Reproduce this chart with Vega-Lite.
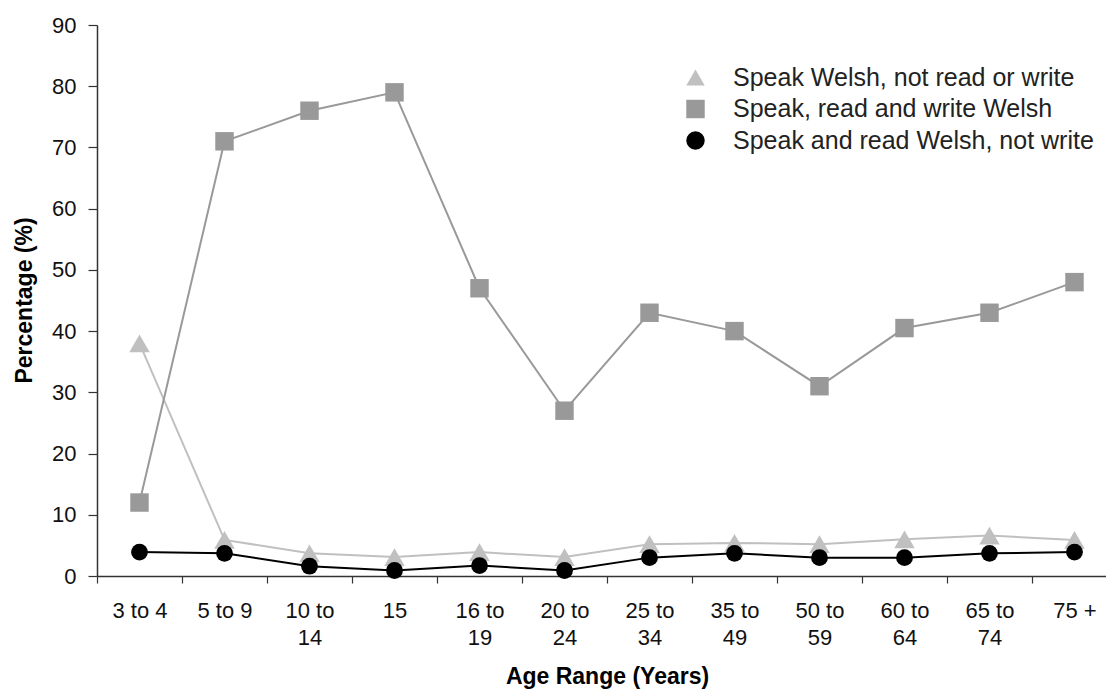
{
  "$schema": "https://vega.github.io/schema/vega-lite/v6.json",
  "autosize": {"type": "none"},
  "padding": {"left": 97, "top": 25, "right": 0, "bottom": 115},
  "width": 1020,
  "height": 551,
  "background": "white",
  "config": {
    "font": "Liberation Sans",
    "view": {"stroke": null},
    "axis": {"grid": false, "domainColor": "#333333", "tickColor": "#333333", "labelColor": "#111111", "titleColor": "#000000", "labelFont": "Liberation Sans", "titleFont": "Liberation Sans"},
    "legend": {"orient": "none", "legendX": 586, "legendY": 40, "padding": 0, "labelFontSize": 25, "labelColor": "#222222", "labelFont": "Liberation Sans", "labelLimit": 0, "symbolSize": 340, "rowPadding": 5.5, "labelOffset": 25, "symbolOpacity": 1, "symbolStrokeWidth": 0}
  },
  "data": {
    "values": [
      {"age": "3 to 4", "series": "Speak Welsh, not read or write", "pct": 38},
      {"age": "5 to 9", "series": "Speak Welsh, not read or write", "pct": 5.9},
      {"age": "10 to 14", "series": "Speak Welsh, not read or write", "pct": 3.7},
      {"age": "15", "series": "Speak Welsh, not read or write", "pct": 3.1},
      {"age": "16 to 19", "series": "Speak Welsh, not read or write", "pct": 3.9},
      {"age": "20 to 24", "series": "Speak Welsh, not read or write", "pct": 3.1},
      {"age": "25 to 34", "series": "Speak Welsh, not read or write", "pct": 5.2},
      {"age": "35 to 49", "series": "Speak Welsh, not read or write", "pct": 5.4},
      {"age": "50 to 59", "series": "Speak Welsh, not read or write", "pct": 5.2},
      {"age": "60 to 64", "series": "Speak Welsh, not read or write", "pct": 6.0},
      {"age": "65 to 74", "series": "Speak Welsh, not read or write", "pct": 6.6},
      {"age": "75 +", "series": "Speak Welsh, not read or write", "pct": 5.9},
      {"age": "3 to 4", "series": "Speak, read and write Welsh", "pct": 12},
      {"age": "5 to 9", "series": "Speak, read and write Welsh", "pct": 71},
      {"age": "10 to 14", "series": "Speak, read and write Welsh", "pct": 76},
      {"age": "15", "series": "Speak, read and write Welsh", "pct": 79},
      {"age": "16 to 19", "series": "Speak, read and write Welsh", "pct": 47},
      {"age": "20 to 24", "series": "Speak, read and write Welsh", "pct": 27},
      {"age": "25 to 34", "series": "Speak, read and write Welsh", "pct": 43},
      {"age": "35 to 49", "series": "Speak, read and write Welsh", "pct": 40},
      {"age": "50 to 59", "series": "Speak, read and write Welsh", "pct": 31},
      {"age": "60 to 64", "series": "Speak, read and write Welsh", "pct": 40.5},
      {"age": "65 to 74", "series": "Speak, read and write Welsh", "pct": 43},
      {"age": "75 +", "series": "Speak, read and write Welsh", "pct": 48},
      {"age": "3 to 4", "series": "Speak and read Welsh, not write", "pct": 3.9},
      {"age": "5 to 9", "series": "Speak and read Welsh, not write", "pct": 3.7},
      {"age": "10 to 14", "series": "Speak and read Welsh, not write", "pct": 1.6},
      {"age": "15", "series": "Speak and read Welsh, not write", "pct": 0.9},
      {"age": "16 to 19", "series": "Speak and read Welsh, not write", "pct": 1.7},
      {"age": "20 to 24", "series": "Speak and read Welsh, not write", "pct": 0.9},
      {"age": "25 to 34", "series": "Speak and read Welsh, not write", "pct": 3.0},
      {"age": "35 to 49", "series": "Speak and read Welsh, not write", "pct": 3.7},
      {"age": "50 to 59", "series": "Speak and read Welsh, not write", "pct": 3.0},
      {"age": "60 to 64", "series": "Speak and read Welsh, not write", "pct": 3.0},
      {"age": "65 to 74", "series": "Speak and read Welsh, not write", "pct": 3.7},
      {"age": "75 +", "series": "Speak and read Welsh, not write", "pct": 3.9}
    ]
  },
  "encoding": {
    "x": {
      "field": "age", "type": "ordinal", "sort": null,
      "scale": {"type": "band", "paddingInner": 0, "paddingOuter": 0},
      "axis": {
        "title": "Age Range (Years)", "titleFontSize": 23, "titleFontWeight": "bold",
        "titleY": 107, "titleBaseline": "alphabetic",
        "labelAngle": 0, "labelFontSize": 22, "labelPadding": 17, "labelLineHeight": 27.5, "labelBaseline": "top",
        "tickSize": 7, "domainWidth": 1.5, "tickWidth": 1.2, "tickBand": "extent",
        "labelExpr": "length(datum.label) > 6 ? [slice(datum.label, 0, indexof(datum.label, ' to ') + 3), slice(datum.label, indexof(datum.label, ' to ') + 4)] : datum.label"
      }
    },
    "y": {
      "field": "pct", "type": "quantitative",
      "scale": {"domain": [0, 90], "nice": false},
      "axis": {
        "title": "Percentage (%)", "titleFontSize": 23, "titleFontWeight": "bold",
        "titleX": -73, "titleY": 275, "titleAngle": -90, "titleBaseline": "middle", "titleAlign": "center",
        "values": [0, 10, 20, 30, 40, 50, 60, 70, 80, 90],
        "labelFontSize": 22, "labelPadding": 12, "tickSize": 9, "domainWidth": 1.5, "tickWidth": 1.2
      }
    }
  },
  "layer": [
    {
      "transform": [{"filter": "datum.series === 'Speak Welsh, not read or write'"}],
      "mark": {"type": "line", "strokeWidth": 2, "color": "#c0c0c0"},
      "encoding": {}
    },
    {
      "transform": [{"filter": "datum.series === 'Speak, read and write Welsh'"}],
      "mark": {"type": "line", "strokeWidth": 2, "color": "#999999"},
      "encoding": {}
    },
    {
      "transform": [{"filter": "datum.series === 'Speak and read Welsh, not write'"}],
      "mark": {"type": "line", "strokeWidth": 2, "color": "#000000"},
      "encoding": {}
    },
    {
      "transform": [{"filter": "datum.series === 'Speak Welsh, not read or write'"}],
      "mark": {"type": "point", "filled": true, "opacity": 1, "size": 420},
      "encoding": {
        "shape": {"field": "series", "type": "nominal", "title": null,
          "scale": {"domain": ["Speak Welsh, not read or write", "Speak, read and write Welsh", "Speak and read Welsh, not write"], "range": ["triangle-up", "square", "circle"]}},
        "color": {"field": "series", "type": "nominal", "title": null,
          "scale": {"domain": ["Speak Welsh, not read or write", "Speak, read and write Welsh", "Speak and read Welsh, not write"], "range": ["#c0c0c0", "#999999", "#000000"]}}
      }
    },
    {
      "transform": [{"filter": "datum.series === 'Speak, read and write Welsh'"}],
      "mark": {"type": "point", "filled": true, "opacity": 1, "size": 340},
      "encoding": {
        "shape": {"field": "series", "type": "nominal", "title": null,
          "scale": {"domain": ["Speak Welsh, not read or write", "Speak, read and write Welsh", "Speak and read Welsh, not write"], "range": ["triangle-up", "square", "circle"]}},
        "color": {"field": "series", "type": "nominal", "title": null,
          "scale": {"domain": ["Speak Welsh, not read or write", "Speak, read and write Welsh", "Speak and read Welsh, not write"], "range": ["#c0c0c0", "#999999", "#000000"]}}
      }
    },
    {
      "transform": [{"filter": "datum.series === 'Speak and read Welsh, not write'"}],
      "mark": {"type": "point", "filled": true, "opacity": 1, "size": 283},
      "encoding": {
        "shape": {"field": "series", "type": "nominal", "title": null,
          "scale": {"domain": ["Speak Welsh, not read or write", "Speak, read and write Welsh", "Speak and read Welsh, not write"], "range": ["triangle-up", "square", "circle"]}},
        "color": {"field": "series", "type": "nominal", "title": null,
          "scale": {"domain": ["Speak Welsh, not read or write", "Speak, read and write Welsh", "Speak and read Welsh, not write"], "range": ["#c0c0c0", "#999999", "#000000"]}}
      }
    }
  ]
}
